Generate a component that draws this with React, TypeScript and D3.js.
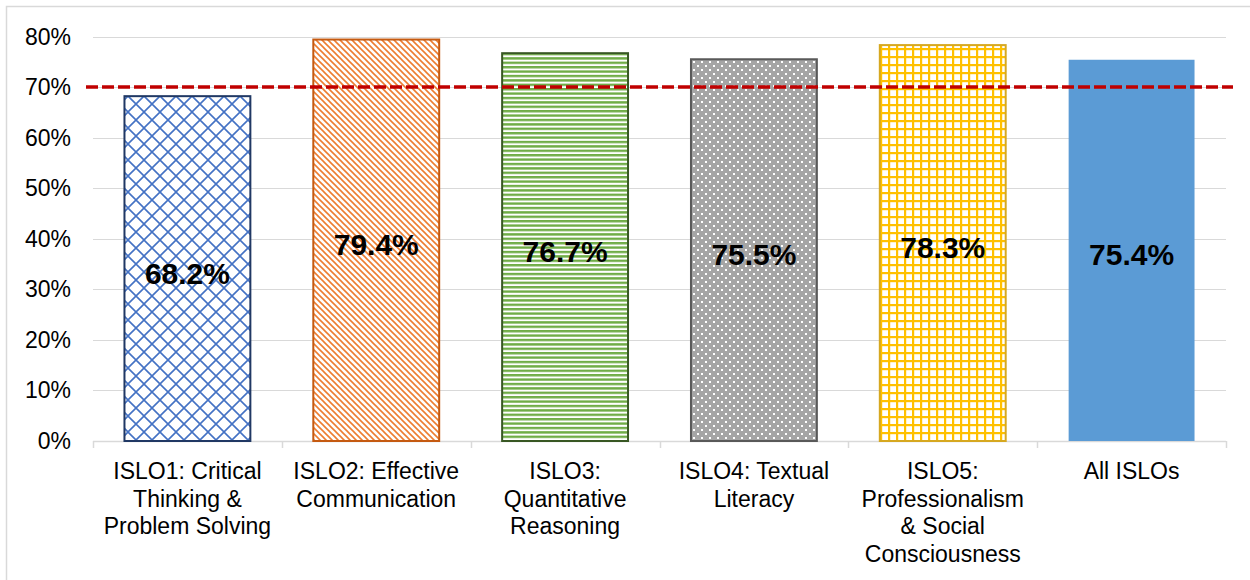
import React from "react";
import * as d3 from "d3";

// chart data
const categories = ["ISLO1", "ISLO2", "ISLO3", "ISLO4", "ISLO5", "All"];
const labelLines = [
  ["ISLO1: Critical", "Thinking &", "Problem Solving"],
  ["ISLO2: Effective", "Communication"],
  ["ISLO3:", "Quantitative", "Reasoning"],
  ["ISLO4: Textual", "Literacy"],
  ["ISLO5:", "Professionalism", "& Social", "Consciousness"],
  ["All ISLOs"],
];
const values = [68.2, 79.4, 76.7, 75.5, 78.3, 75.4];
const yTicks = [0, 10, 20, 30, 40, 50, 60, 70, 80];
const target = 70;

const W = 1250;
const H = 580;
const margin = { left: 93, right: 24, top: 36.5, bottom: 139 };

const fills = ["url(#p1)", "url(#p2)", "url(#p3)", "url(#p4)", "url(#p5)", "#5b9bd5"];
const strokes = ["#203864", "#c55a11", "#385723", "#595959", "#d6a820", "none"];

export default function App() {
  const x = d3
    .scaleBand<string>()
    .domain(categories)
    .range([margin.left, W - margin.right])
    .padding(0);
  const y = d3
    .scaleLinear()
    .domain([0, 80])
    .range([H - margin.bottom, margin.top]);

  const bw = x.bandwidth() * (2 / 3);
  const font = "Arial, 'Liberation Sans', sans-serif";

  return (
    <svg
      width={W}
      height={H}
      style={{ position: "absolute", left: 0, top: 0, background: "#fff" }}
      fontFamily={font}
    >
      <defs>
        <pattern id="p1" width={16} height={16} patternUnits="userSpaceOnUse">
          <rect width={16} height={16} fill="#fff" />
          <path d="M0,0L16,16M16,0L0,16M-2,14L2,18M14,-2L18,2" stroke="#4472c4" strokeWidth={1.6} />
        </pattern>
        <pattern id="p2" width={6} height={6} patternUnits="userSpaceOnUse">
          <rect width={6} height={6} fill="#fff" />
          <path d="M0,0L6,6M-3,3L3,9M3,-3L9,3" stroke="#ed7d31" strokeWidth={1.6} />
        </pattern>
        <pattern id="p3" width={8} height={4.4} patternUnits="userSpaceOnUse">
          <rect width={8} height={4.4} fill="#fff" />
          <rect y={0} width={8} height={2.4} fill="#70ad47" />
        </pattern>
        <pattern id="p4" width={8} height={8} patternUnits="userSpaceOnUse">
          <rect width={8} height={8} fill="#a5a5a5" />
          <rect x={1} y={1} width={2} height={2} fill="#fff" />
          <rect x={5} y={5} width={2} height={2} fill="#fff" />
        </pattern>
        <pattern id="p5" width={8} height={8} patternUnits="userSpaceOnUse">
          <rect width={8} height={8} fill="#fff" />
          <rect x={0} y={0} width={2.2} height={8} fill="#ffc000" />
          <rect x={0} y={0} width={8} height={2.2} fill="#ffc000" />
        </pattern>
      </defs>

      {/* outer chart border */}
      <rect x={6.5} y={6.5} width={W + 10} height={H + 10} fill="none" stroke="#d9d9d9" strokeWidth={1.5} />

      {/* gridlines */}
      {yTicks.map((t) => (
        <line
          key={"g" + t}
          x1={margin.left}
          x2={W - margin.right}
          y1={Math.round(y(t)) + 0.5}
          y2={Math.round(y(t)) + 0.5}
          stroke="#d9d9d9"
          strokeWidth={t === 0 ? 1.5 : 1}
        />
      ))}

      {/* y labels */}
      {yTicks.map((t) => (
        <text key={"t" + t} x={71} y={y(t) + 8} textAnchor="end" fontSize={23} fill="#000">
          {t + "%"}
        </text>
      ))}

      {/* x tick marks */}
      {categories.concat(["end"]).map((c, i) => {
        const xx = i < categories.length ? (x(c) as number) : W - margin.right;
        return (
          <line
            key={"xt" + i}
            x1={Math.round(xx) + 0.5}
            x2={Math.round(xx) + 0.5}
            y1={y(0)}
            y2={y(0) + 7}
            stroke="#d9d9d9"
            strokeWidth={1.5}
          />
        );
      })}

      {/* bars */}
      {categories.map((c, i) => {
        const cx = (x(c) as number) + x.bandwidth() / 2;
        const top = y(values[i]);
        return (
          <rect
            key={"b" + c}
            x={cx - bw / 2}
            y={top}
            width={bw}
            height={y(0) - top}
            fill={fills[i]}
            stroke={strokes[i]}
            strokeWidth={strokes[i] === "none" ? 0 : 2}
          />
        );
      })}

      {/* target line */}
      <line
        x1={margin.left - 7}
        x2={W - margin.right + 7}
        y1={y(target)}
        y2={y(target)}
        stroke="#c00000"
        strokeWidth={3.5}
        strokeDasharray="12,4"
      />

      {/* value labels */}
      {categories.map((c, i) => {
        const cx = (x(c) as number) + x.bandwidth() / 2;
        const mid = (y(values[i]) + y(0)) / 2;
        return (
          <text
            key={"v" + c}
            x={cx}
            y={mid + 15}
            textAnchor="middle"
            fontSize={30}
            fontWeight="bold"
            fill="#000"
          >
            {values[i].toFixed(1) + "%"}
          </text>
        );
      })}

      {/* category labels */}
      {categories.map((c, i) => {
        const cx = (x(c) as number) + x.bandwidth() / 2;
        return (
          <text key={"c" + c} textAnchor="middle" fontSize={23} fill="#000">
            {labelLines[i].map((ln, j) => (
              <tspan key={j} x={cx} y={479 + j * 27.5}>
                {ln}
              </tspan>
            ))}
          </text>
        );
      })}
    </svg>
  );
}
